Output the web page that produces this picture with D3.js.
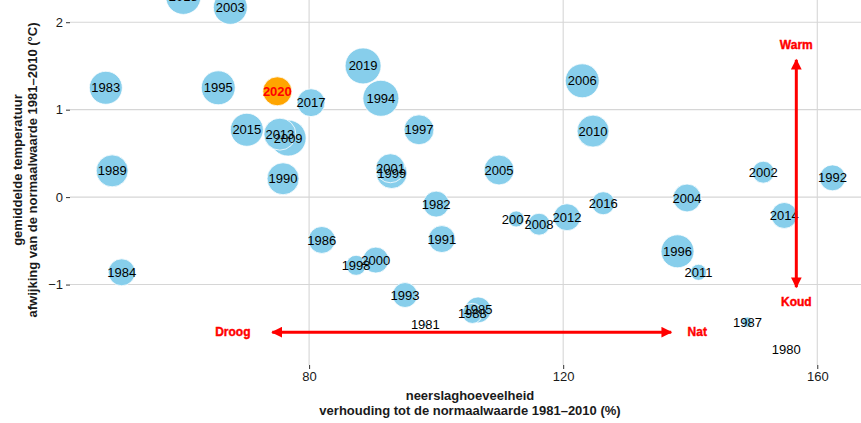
<!DOCTYPE html>
<html lang="nl">
<head>
<meta charset="utf-8">
<title>Neerslag en temperatuur</title>
<script src="https://cdn.jsdelivr.net/npm/d3@7"></script>
<style>
  body { margin: 0; background: #fff; }
  text { font-family: "Liberation Sans", Arial, sans-serif; }
</style>
</head>
<body>
<script>
// jaren met neerslag (% van normaal), temperatuurafwijking (°C) en bolgrootte
var jaren = [1980,1981,1982,1983,1984,1985,1986,1987,1988,1989,1990,1991,1992,1993,1994,1995,1996,1997,1998,1999,
             2000,2001,2002,2003,2004,2005,2006,2007,2008,2009,2010,2011,2012,2013,2014,2015,2016,2017,2018,2019,2020];
var neerslag = [155.1,98.3,100.0,48.0,50.5,106.6,82.0,149.0,105.7,49.0,75.9,100.9,162.4,95.1,91.3,65.7,138.0,97.3,87.4,93.0,
                90.5,92.8,151.5,67.6,139.5,109.9,123.0,112.6,116.2,76.7,124.7,141.3,120.6,75.4,154.8,70.2,126.3,80.3,60.2,88.5,75.0];
var temperatuur = [-1.74,-1.46,-0.08,1.25,-0.86,-1.29,-0.49,-1.43,-1.33,0.30,0.21,-0.48,0.22,-1.12,1.13,1.25,-0.62,0.77,-0.78,0.275,
                   -0.72,0.33,0.285,2.17,-0.01,0.31,1.33,-0.25,-0.31,0.675,0.755,-0.86,-0.23,0.72,-0.21,0.77,-0.07,1.08,2.29,1.50,1.21];
var grootte = [0.3,1,52,84,56,52,56,8,31,79,79,56,52,48,100,89,84,69,31,74,
               52,65,37,89,60,69,89,20,37,100,79,20,56,79,52,84,41,60,95,100,65];
var huidigJaar = 2020;

var xTicks = [80, 120, 160];
var yTicks = [-1, 0, 1, 2];

// richtingspijlen
var pijlX = [137.0, 74.2], pijlXy = -1.545;
var pijlY = [-1.03, 1.57], pijlYx = 156.7;
var pijlLabels = [
  {tekst: "Droog", x: 68.0, y: -1.545},
  {tekst: "Nat", x: 141.1, y: -1.545},
  {tekst: "Warm", x: 156.7, y: 1.74},
  {tekst: "Koud", x: 156.7, y: -1.20}
];

var w = 861, h = 423;
var pLeft = 70, pRight = 870, pTop = 0, pBottom = 365;

var svg = d3.select("body").append("svg").attr("width", w).attr("height", h);

var x = d3.scaleLinear().domain([42.36, 168.3]).range([pLeft, pRight]);
var y = d3.scaleLinear().domain([-1.92, 2.254]).range([pBottom, pTop]);
var r = d3.scaleSqrt().domain([0, 100]).range([0, 18]);

// grid
svg.append("g").selectAll("line").data(yTicks).enter().append("line")
  .attr("x1", pLeft).attr("x2", pRight)
  .attr("y1", function(d) { return y(d); }).attr("y2", function(d) { return y(d); })
  .attr("stroke", "#d6d6d6").attr("stroke-width", 1.1);
svg.append("g").selectAll("line").data(xTicks).enter().append("line")
  .attr("y1", pTop).attr("y2", pBottom)
  .attr("x1", function(d) { return x(d); }).attr("x2", function(d) { return x(d); })
  .attr("stroke", "#d6d6d6").attr("stroke-width", 1.1);

// assen
var xAxis = d3.axisBottom(x).tickValues(xTicks).tickSize(4).tickPadding(3);
var yAxis = d3.axisLeft(y).tickValues(yTicks).tickSize(4).tickPadding(3)
  .tickFormat(function(d) { return d < 0 ? "\u2212" + Math.abs(d) : d; });

var gx = svg.append("g").attr("transform", "translate(0," + pBottom + ")").call(xAxis);
var gy = svg.append("g").attr("transform", "translate(" + pLeft + ",0)").call(yAxis);
[gx, gy].forEach(function(g) {
  g.select(".domain").remove();
  g.selectAll(".tick line").attr("stroke", "#333");
  g.selectAll(".tick text").attr("fill", "#1a1a1a").style("font-size", "13px")
    .style("font-family", "'Liberation Sans', Arial, sans-serif");
});

// bollen
var data = jaren.map(function(j, i) {
  return {jaar: j, x: neerslag[i], y: temperatuur[i], s: grootte[i]};
});

svg.append("g").selectAll("circle").data(data).enter().append("circle")
  .attr("cx", function(d) { return x(d.x); })
  .attr("cy", function(d) { return y(d.y); })
  .attr("r", function(d) { return r(d.s); })
  .attr("fill", function(d) { return d.jaar === huidigJaar ? "#ffa500" : "#87ceeb"; })
  .attr("stroke", "#fff").attr("stroke-width", 0.8);

svg.append("g").selectAll("text").data(data).enter().append("text")
  .attr("x", function(d) { return x(d.x); })
  .attr("y", function(d) { return y(d.y); })
  .attr("dy", "0.35em")
  .attr("text-anchor", "middle")
  .style("font-size", "13px")
  .style("font-weight", function(d) { return d.jaar === huidigJaar ? "bold" : "normal"; })
  .attr("fill", function(d) { return d.jaar === huidigJaar ? "#ff0000" : "#000"; })
  .text(function(d) { return d.jaar; });

// pijlen
var defs = svg.append("defs");
function kop(id, pad, refX) {
  defs.append("marker").attr("id", id)
    .attr("viewBox", "0 0 10 10").attr("refX", refX).attr("refY", 5)
    .attr("markerWidth", 5).attr("markerHeight", 3.6)
    .attr("markerUnits", "strokeWidth").attr("orient", "auto")
    .append("path").attr("d", pad).attr("fill", "#ff0000");
}
kop("kopE", "M0,0 L10,5 L0,10 Z", 9);
kop("kopS", "M10,0 L0,5 L10,10 Z", 1);

function pijl(x1, y1, x2, y2) {
  svg.append("line")
    .attr("x1", x(x1)).attr("y1", y(y1)).attr("x2", x(x2)).attr("y2", y(y2))
    .attr("stroke", "#ff0000").attr("stroke-width", 3)
    .attr("marker-start", "url(#kopS)").attr("marker-end", "url(#kopE)");
}
pijl(pijlX[0], pijlXy, pijlX[1], pijlXy);
pijl(pijlYx, pijlY[0], pijlYx, pijlY[1]);

svg.append("g").selectAll("text").data(pijlLabels).enter().append("text")
  .attr("x", function(d) { return x(d.x); })
  .attr("y", function(d) { return y(d.y); })
  .attr("dy", "0.35em")
  .attr("text-anchor", "middle")
  .style("font-size", "12px").style("font-weight", "bold")
  .attr("fill", "#ff0000").attr("stroke", "#ff0000").attr("stroke-width", 0.4)
  .text(function(d) { return d.tekst; });

// astitels
svg.append("text").attr("x", (pLeft + pRight) / 2).attr("y", 400)
  .attr("text-anchor", "middle").style("font-size", "13px").style("font-weight", "bold")
  .attr("fill", "#1a1a1a").text("neerslaghoeveelheid");
svg.append("text").attr("x", (pLeft + pRight) / 2).attr("y", 415)
  .attr("text-anchor", "middle").style("font-size", "13px").style("font-weight", "bold")
  .attr("fill", "#1a1a1a").text("verhouding tot de normaalwaarde 1981\u20132010 (%)");

svg.append("text").attr("transform", "translate(22,170) rotate(-90)")
  .attr("text-anchor", "middle").style("font-size", "13px").style("font-weight", "bold")
  .attr("fill", "#1a1a1a").text("gemiddelde temperatuur");
svg.append("text").attr("transform", "translate(37,170) rotate(-90)")
  .attr("text-anchor", "middle").style("font-size", "13px").style("font-weight", "bold")
  .attr("fill", "#1a1a1a").text("afwijking van de normaalwaarde 1981\u20132010 (\u00b0C)");
</script>
</body>
</html>
